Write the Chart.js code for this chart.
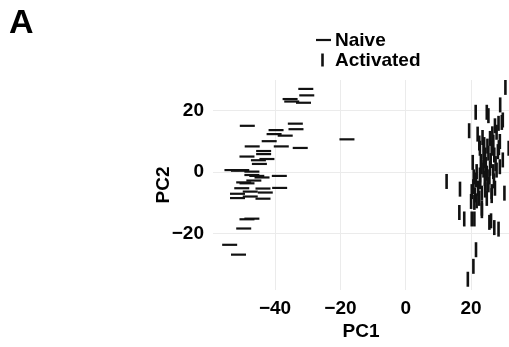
<!DOCTYPE html>
<html>
<head>
<meta charset="utf-8">
<script src="https://cdn.jsdelivr.net/npm/chart.js@4"></script>
<style>
  html, body { margin: 0; padding: 0; background: #fff; }
  canvas { display: block; }
</style>
</head>
<body>
<canvas id="pca" width="509" height="347"></canvas>
<script>
// PCA scores
const naiveX = [-30.6, -30.3, -35.4, -34.9, -31.3, -48.5, -33.8, -33.6, -39.7, -40.3,
  -36.9, -41.8, -38.1, -32.3, -47.0, -43.5, -43.5, -48.6, -42.5, -45.1,
  -44.8, -53.2, -51.2, -50.2, -47.1, -47.1, -45.6, -44.0, -38.7, -46.5,
  -49.6, -48.6, -50.2, -43.7, -38.6, -47.6, -43.0, -51.5, -47.6, -51.5,
  -43.7, -48.6, -47.1, -49.6, -53.9, -51.2, -18.0];
const naiveY = [27.1, 25.0, 23.8, 23.0, 22.6, 15.1, 15.8, 14.0, 13.7, 12.4,
  11.9, 10.1, 8.4, 7.9, 8.4, 6.9, 5.9, 5.1, 4.3, 3.9,
  2.7, 0.7, 0.5, 0.7, 0.2, -0.9, -1.2, -1.7, -1.2, -2.7,
  -3.3, -3.6, -5.2, -5.3, -5.1, -6.3, -6.6, -7.0, -7.9, -8.4,
  -8.6, -15.3, -15.1, -18.3, -23.6, -26.8, 10.7];

const activatedX = [30.5, 28.9, 21.4, 24.8, 25.3, 27.3, 28.4, 29.4, 29.7, 19.4,
  22.0, 23.5, 25.8, 22.7, 23.8, 24.3, 25.3, 26.3, 27.1, 28.2,
  29.7, 20.5, 21.7, 22.7, 23.8, 24.8, 25.8, 26.8, 27.8, 12.5,
  16.6, 20.2, 20.7, 21.2, 22.2, 23.3, 24.3, 25.3, 26.3, 27.3,
  30.2, 20.0, 21.7, 23.3, 24.8, 26.3, 16.4, 17.9, 20.2, 21.0,
  23.3, 25.6, 26.1, 27.1, 28.4, 21.5, 20.7, 19.0, 31.5,
  22.5, 24.0, 25.0, 26.8, 28.8, 23.0, 24.5, 26.0, 27.5, 28.8,
  21.5, 22.8, 24.2, 25.6, 27.0, 21.0, 22.5, 24.0, 26.5, 27.8,
  20.8, 23.2, 25.0, 28.5];
const activatedY = [27.6, 21.9, 19.5, 19.5, 18.4, 15.1, 15.9, 16.2, 17.0, 13.5,
  12.4, 11.3, 11.0, 7.8, 6.7, 5.6, 6.2, 7.8, 5.6, 6.7,
  4.0, 3.2, 0.2, -0.9, 0.7, -0.3, 1.3, 0.2, 0.7, -3.0,
  -5.5, -6.3, -4.7, -7.4, -5.2, -6.8, -5.8, -4.1, -6.3, -5.2,
  -6.8, -9.5, -9.3, -11.7, -8.5, -7.6, -13.1, -15.2, -15.2, -15.2,
  -12.5, -16.3, -15.8, -18.0, -18.5, -25.2, -30.6, -34.8, 7.8,
  9.5, 9.0, 8.5, 9.8, 10.0, 3.5, 2.5, 3.8, 2.8, 1.8,
  -2.5, -3.0, -2.0, -1.5, -2.8, -9.8, -8.5, 3.8, 12.5, 13.0,
  -1.5, 1.8, -4.0, 8.0];

const groupNames = ["Naive", "Activated"];
const xTicks = [-40, -20, 0, 20];
const yTicks = [-20, 0, 20];

const FONT = "'Liberation Sans', Arial, Helvetica, sans-serif";
const INK = "#111";

function toPoints(xs, ys) {
  return xs.map((x, i) => ({ x: x, y: ys[i] }));
}

function minusSign(v) {
  return v < 0 ? "\u2212" + Math.abs(v) : String(v);
}

// panel letter + two-row legend, drawn like the ggplot guide
const annotations = {
  id: "annotations",
  afterDraw(chart) {
    const ctx = chart.ctx;
    ctx.save();
    ctx.fillStyle = "#000";
    ctx.font = "bold 34px " + FONT;
    ctx.textBaseline = "alphabetic";
    ctx.fillText("A", 9, 33);

    ctx.font = "bold 19px " + FONT;
    ctx.textBaseline = "middle";
    ctx.strokeStyle = INK;
    ctx.lineCap = "butt";
    const rows = [40, 60];
    chart.data.datasets.forEach((ds, i) => {
      const cy = rows[i];
      ctx.lineWidth = ds.borderWidth;
      ctx.beginPath();
      if (ds.pointRotation === 90) {
        ctx.moveTo(322.5, cy - 6.5);
        ctx.lineTo(322.5, cy + 6.5);
      } else {
        ctx.moveTo(316, cy);
        ctx.lineTo(331, cy);
      }
      ctx.stroke();
      ctx.fillText(ds.label, 335, cy + 1);
    });
    ctx.restore();
  }
};

new Chart(document.getElementById("pca"), {
  type: "scatter",
  data: {
    datasets: [
      {
        label: groupNames[0],
        data: toPoints(naiveX, naiveY),
        pointStyle: "line",
        pointRotation: 0,
        pointRadius: 7.5,
        borderWidth: 2.2,
        borderColor: INK,
        backgroundColor: INK
      },
      {
        label: groupNames[1],
        data: toPoints(activatedX, activatedY),
        pointStyle: "line",
        pointRotation: 90,
        pointRadius: 7.5,
        borderWidth: 2.6,
        borderColor: INK,
        backgroundColor: INK
      }
    ]
  },
  options: {
    responsive: false,
    animation: false,
    layout: { autoPadding: false, padding: { top: 80, right: 0, bottom: 0, left: 0 } },
    plugins: {
      legend: { display: false },
      tooltip: { enabled: false }
    },
    scales: {
      x: {
        type: "linear",
        min: -59,
        max: 31.6,
        afterFit: s => { s.height = 57; },
        afterBuildTicks: s => { s.ticks = xTicks.map(v => ({ value: v })); },
        border: { display: false },
        grid: { color: "#ebebeb", lineWidth: 1, drawTicks: false },
        ticks: {
          padding: 7,
          color: "#000",
          font: { family: FONT, size: 19, weight: "bold" },
          callback: minusSign
        },
        title: {
          display: true,
          text: "PC1",
          color: "#000",
          font: { family: FONT, size: 19, weight: "bold" },
          padding: { top: 0, bottom: 4 }
        }
      },
      y: {
        type: "linear",
        min: -38.3,
        max: 30,
        afterFit: s => { s.width = 213; },
        afterBuildTicks: s => { s.ticks = yTicks.map(v => ({ value: v })); },
        border: { display: false },
        grid: { color: "#ebebeb", lineWidth: 1, drawTicks: false },
        ticks: {
          padding: 9,
          color: "#000",
          font: { family: FONT, size: 19, weight: "bold" },
          callback: minusSign
        },
        title: {
          display: true,
          text: "PC2",
          color: "#000",
          font: { family: FONT, size: 19, weight: "bold" },
          padding: { top: 152, bottom: 0 }
        }
      }
    }
  },
  plugins: [annotations]
});
</script>
</body>
</html>
